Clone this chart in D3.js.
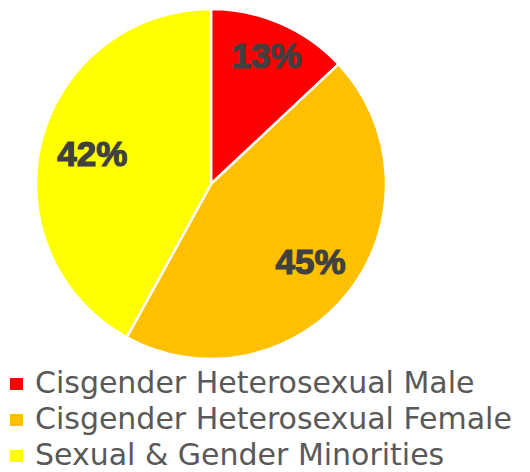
<!DOCTYPE html>
<html><head><meta charset="utf-8">
<script src="https://cdn.jsdelivr.net/npm/d3@7"></script>
<style>body{margin:0;background:#fff}svg{display:block}</style>
</head><body>
<svg id="c" width="530" height="472"></svg>
<script>
const categories = ["Cisgender Heterosexual Male", "Cisgender Heterosexual Female", "Sexual & Gender Minorities"];
const values = [13, 45, 42];
const labels = ["13%", "45%", "42%"];
const colors = ["#FF0000", "#FFC000", "#FFFF00"];

const svg = d3.select("#c");
const cx = 211, cy = 184, r = 175;
const pie = d3.pie().sort(null).value(d => d)(values);
const arc = d3.arc().innerRadius(0).outerRadius(r);
const g = svg.append("g").attr("transform", `translate(${cx},${cy})`);
g.selectAll("path").data(pie).join("path")
  .attr("d", arc).attr("fill", (d,i) => colors[i])
  .attr("stroke", "#fff").attr("stroke-width", 2.5).attr("stroke-linejoin","round");

// label positions as fraction of radius along mid-angle
const labelArc = d3.arc().innerRadius(r*0.72).outerRadius(r*0.72);
const lblR = [0.80, 0.72, 0.70];
g.selectAll("text.lbl").data(pie).join("text")
  .attr("class","lbl")
  .attr("transform", (d,i) => {
    const a = d3.arc().innerRadius(r*lblR[i]).outerRadius(r*lblR[i]);
    const [x,y] = a.centroid(d);
    return `translate(${x},${y})`;
  })
  .attr("text-anchor","middle").attr("dy","0.36em")
  .attr("font-family","'Liberation Sans', Arial, sans-serif")
  .attr("font-weight","bold").attr("font-size",35)
  .attr("fill","#404040").attr("stroke","#404040").attr("stroke-width",1.2)
  .text((d,i) => labels[i]);

// legend
const leg = svg.append("g");
const rows = leg.selectAll("g").data(categories).join("g")
  .attr("transform", (d,i) => `translate(0,${393 + i*36})`);
rows.append("rect").attr("x",10).attr("y",-15).attr("width",13).attr("height",12)
  .attr("fill",(d,i)=>colors[i]);
const txt = rows.append("text").attr("x",35).attr("y",0)
  .attr("font-family","'DejaVu Sans', sans-serif").attr("font-size",28)
  .attr("fill","#595959").text(d=>d);
// fit font size so longest line matches reference width
const w = txt.nodes()[1].getComputedTextLength();
txt.attr("font-size", 28*477/w);
</script>
</body></html>
